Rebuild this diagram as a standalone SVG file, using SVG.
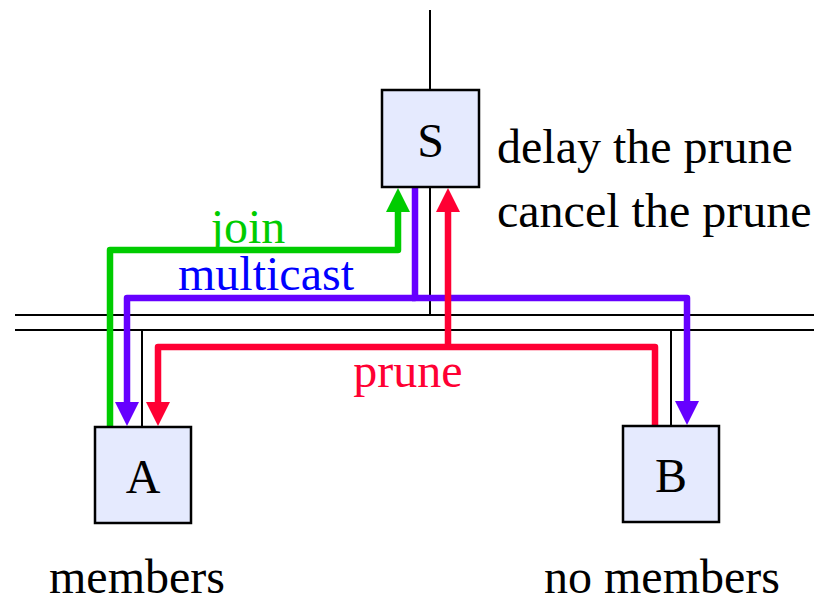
<svg xmlns="http://www.w3.org/2000/svg" width="814" height="600" viewBox="0 0 814 600">
<style>
.wire{stroke:#000;stroke-width:2;fill:none}
.box{fill:#E5EAFE;stroke:#000;stroke-width:2.5}
.t{font-family:"Liberation Serif","Times New Roman",serif;font-size:48px;fill:#000}
.c{text-anchor:middle}
.flow{fill:none;stroke-width:6.5;stroke-linejoin:round;stroke-linecap:butt}
</style>
<defs>
<marker id="ag" markerUnits="userSpaceOnUse" markerWidth="24" markerHeight="24" viewBox="0 0 24 24" refX="1" refY="12" orient="auto"><path d="M0,0 L24,12 L0,24 z" fill="#00CC00"/></marker>
<marker id="ap" markerUnits="userSpaceOnUse" markerWidth="24" markerHeight="24" viewBox="0 0 24 24" refX="1" refY="12" orient="auto"><path d="M0,0 L24,12 L0,24 z" fill="#6600FF"/></marker>
<marker id="ar" markerUnits="userSpaceOnUse" markerWidth="24" markerHeight="24" viewBox="0 0 24 24" refX="1" refY="12" orient="auto"><path d="M0,0 L24,12 L0,24 z" fill="#FF0033"/></marker>
</defs>
<g id="network">
<line class="wire" x1="430" y1="10" x2="430" y2="90"/>
<line class="wire" x1="15" y1="315" x2="814" y2="315"/>
<line class="wire" x1="15" y1="330" x2="814" y2="330"/>
<line class="wire" x1="430" y1="187" x2="430" y2="315"/>
<line class="wire" x1="142" y1="330" x2="142" y2="427"/>
<line class="wire" x1="671" y1="330" x2="671" y2="426"/>
</g>
<g id="connectors">
<path class="flow" stroke="#00CC00" d="M110,427 V250 H398 V211" marker-end="url(#ag)"/>
<path class="flow" stroke="#6600FF" d="M415,187 V298 H127 V403" marker-end="url(#ap)"/>
<path class="flow" stroke="#6600FF" d="M412,298 H687 V402" marker-end="url(#ap)"/>
<path class="flow" stroke="#FF0033" d="M655,426 V347 H158 V403" marker-end="url(#ar)"/>
<path class="flow" stroke="#FF0033" d="M448,350 V211" marker-end="url(#ar)"/>
</g>
<g id="labels">
<text class="t c" x="248" y="243" fill="#00CC00" style="fill:#00CC00">join</text>
<text class="t c" x="266" y="290" style="fill:#0000FF">multicast</text>
<text class="t c" x="408" y="387" style="fill:#FF0033">prune</text>
<text class="t" x="497" y="163">delay the prune</text>
<text class="t" x="497" y="227">cancel the prune</text>
<text class="t c" x="137" y="593">members</text>
<text class="t c" x="662" y="593">no members</text>
</g>
<g id="S">
<rect class="box" x="382" y="90" width="97" height="97"/>
<text class="t c" x="430.5" y="157">S</text>
</g>
<g id="A">
<rect class="box" x="95" y="427" width="96" height="96"/>
<text class="t c" x="143" y="493">A</text>
</g>
<g id="B">
<rect class="box" x="623" y="426" width="96" height="96"/>
<text class="t c" x="671" y="492">B</text>
</g>
</svg>
